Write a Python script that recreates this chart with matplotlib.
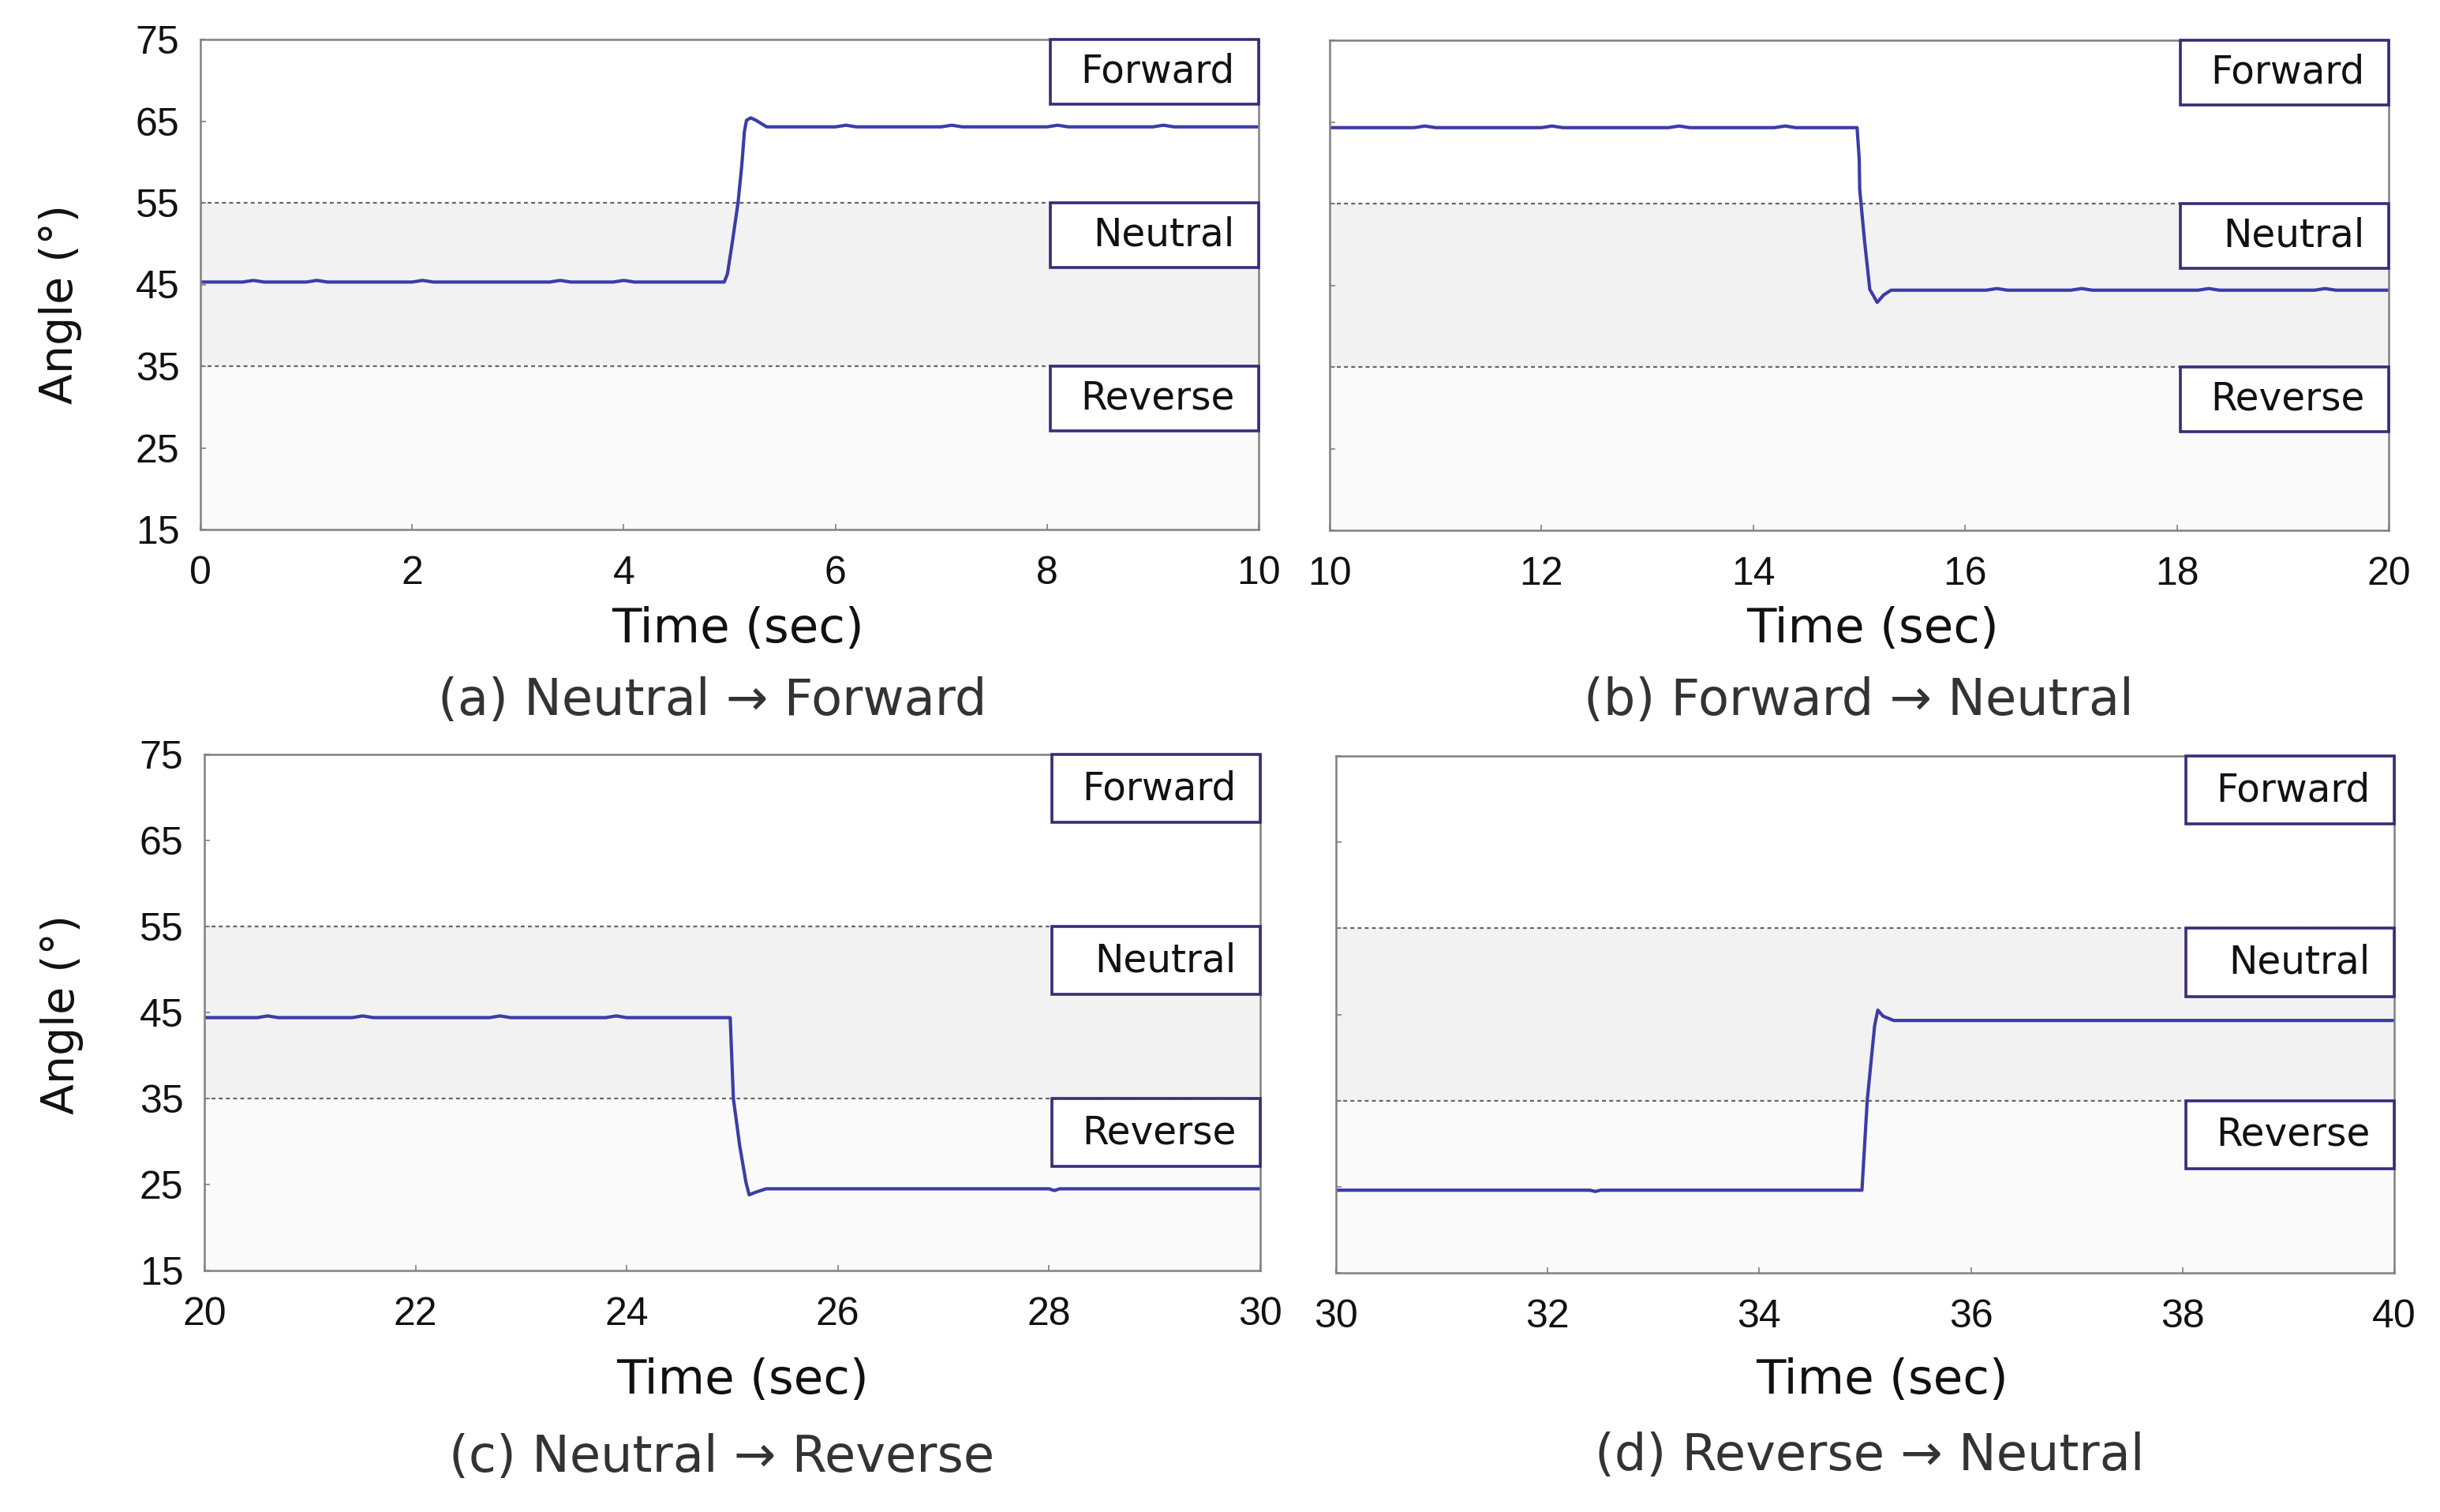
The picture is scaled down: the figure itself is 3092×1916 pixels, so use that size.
import matplotlib
matplotlib.use("Agg")
import matplotlib.pyplot as plt
from matplotlib.patches import Rectangle

# ---------------- data ----------------
t_a = [0, 0.4, 0.5, 0.6, 1.0, 1.1, 1.2, 2.0, 2.1, 2.2, 3.3, 3.4, 3.5, 3.9, 4.0, 4.1,
       4.95, 4.98, 5.03, 5.08, 5.115, 5.14, 5.16, 5.2, 5.25, 5.35, 6.0, 6.1, 6.2, 7.0, 7.1, 7.2,
       8.0, 8.1, 8.2, 9.0, 9.1, 9.2, 10]
v_a = [45.3, 45.3, 45.5, 45.3, 45.3, 45.5, 45.3, 45.3, 45.5, 45.3, 45.3, 45.5, 45.3, 45.3, 45.5, 45.3,
       45.3, 46.3, 50.5, 55.0, 59.5, 63.7, 65.1, 65.4, 65.1, 64.3, 64.3, 64.5, 64.3, 64.3, 64.5, 64.3,
       64.3, 64.5, 64.3, 64.3, 64.5, 64.3, 64.3]

t_b = [10, 10.8, 10.9, 11.0, 12.0, 12.1, 12.2, 13.2, 13.3, 13.4, 14.2, 14.3, 14.4,
       14.98, 15.0, 15.005, 15.05, 15.10, 15.17, 15.23, 15.30, 16.2, 16.3, 16.4, 17.0, 17.1, 17.2,
       18.2, 18.3, 18.4, 19.3, 19.4, 19.5, 20]
v_b = [64.3, 64.3, 64.5, 64.3, 64.3, 64.5, 64.3, 64.3, 64.5, 64.3, 64.3, 64.5, 64.3,
       64.3, 60.5, 56.7, 50.5, 44.5, 42.9, 43.8, 44.4, 44.4, 44.6, 44.4, 44.4, 44.6, 44.4,
       44.4, 44.6, 44.4, 44.4, 44.6, 44.4, 44.4]

t_c = [20, 20.5, 20.6, 20.7, 21.4, 21.5, 21.6, 22.7, 22.8, 22.9, 23.8, 23.9, 24.0,
       24.98, 25.01, 25.07, 25.13, 25.16, 25.22, 25.32, 28.0, 28.05, 28.1, 30]
v_c = [44.4, 44.4, 44.6, 44.4, 44.4, 44.6, 44.4, 44.4, 44.6, 44.4, 44.4, 44.6, 44.4,
       44.4, 35.0, 29.5, 25.2, 23.8, 24.1, 24.5, 24.5, 24.3, 24.5, 24.5]

t_d = [30, 32.4, 32.45, 32.5, 34.97, 35.02, 35.06, 35.09, 35.12, 35.17, 35.27, 40]
v_d = [24.6, 24.6, 24.45, 24.6, 24.6, 35.0, 40.0, 43.7, 45.5, 44.8, 44.3, 44.3]

series_t = [t_a, t_b, t_c, t_d]
series_v = [v_a, v_b, v_c, v_d]
x_ranges = [(0, 10), (10, 20), (20, 30), (30, 40)]
captions = ["(a) Neutral \u2192 Forward", "(b) Forward \u2192 Neutral",
            "(c) Neutral \u2192 Reverse", "(d) Reverse \u2192 Neutral"]
y_ticks = [15, 25, 35, 45, 55, 65, 75]
band_edges = [15, 35, 55, 75]
band_labels = ["Reverse", "Neutral", "Forward"]

# ---------------- style ----------------
plt.rcParams['font.family'] = ['DejaVu Sans']
W, H = 3092, 1916
fig = plt.figure(figsize=(W / 100, H / 100), dpi=100)

axes_px = [  # left, right, top, bottom in pixels
    (254, 1595, 50, 671),
    (1685, 3027, 51, 672),
    (259, 1597, 956, 1610),
    (1693, 3034, 958, 1613),
]
time_lbl_px = [(935, 798), (2373, 798), (941, 1750), (2385, 1750)]
caption_px = [(903, 888), (2355, 888), (915, 1847), (2369, 1845)]
angle_lbl_px = [(76, 385), (79, 1285)]

line_col = '#3c3ca8'
box_col = '#3b2a78'
spine_col = '#808080'
tick_font = ['Liberation Sans', 'DejaVu Sans']

for i in range(4):
    l, r, t, b = axes_px[i]
    ax = fig.add_axes([l / W, 1 - b / H, (r - l) / W, (b - t) / H])
    x0, x1 = x_ranges[i]
    ax.set_xlim(x0, x1)
    ax.set_ylim(15, 75)
    ax.set_facecolor('white')
    ax.axhspan(band_edges[0], band_edges[1], color='#fafafa', zorder=0, lw=0)
    ax.axhspan(band_edges[1], band_edges[2], color='#f2f2f2', zorder=0, lw=0)
    for yv in (band_edges[1], band_edges[2]):
        ax.axhline(yv, color='#666666', lw=1.6, ls=(0, (2.2, 1.9)), zorder=1)
    ax.plot(series_t[i], series_v[i], color=line_col, lw=3.0, zorder=3)

    # state boxes
    for k, lab in enumerate(band_labels):
        top = band_edges[k + 1]
        rect = Rectangle((x1 - 1.97, top - 7.9), 1.97, 7.9, facecolor='white',
                         edgecolor=box_col, lw=2.6, zorder=5, clip_on=False)
        ax.add_patch(rect)
        ax.text(x1 - 0.23, top - 3.95, lab, ha='right', va='center', fontsize=35,
                color='#111111', zorder=6)

    ax.set_xticks(range(x0, x1 + 1, 2))
    ax.set_yticks(y_ticks)
    ax.tick_params(direction='in', length=5, width=1.2, color=spine_col,
                   labelsize=36, labelcolor='#111111')
    ax.tick_params(axis='x', pad=24)
    ax.tick_params(axis='y', pad=19)
    for lab in ax.get_xticklabels() + ax.get_yticklabels():
        lab.set_family(tick_font)
    if i % 2 == 1:
        ax.tick_params(labelleft=False)
    for s in ax.spines.values():
        s.set_color(spine_col)
        s.set_linewidth(1.8)
        s.set_zorder(4)

    tx, ty = time_lbl_px[i]
    fig.text(tx / W, 1 - ty / H, "Time (sec)", ha='center', va='center',
             fontsize=44, color='#111111')
    cx, cy = caption_px[i]
    fig.text(cx / W, 1 - cy / H, captions[i], ha='center', va='center',
             fontsize=46, color='#333333')

for ax_x, ax_y in angle_lbl_px:
    fig.text(ax_x / W, 1 - ax_y / H, "Angle (\u00b0)", ha='center', va='center',
             rotation=90, fontsize=41, color='#111111')

fig.savefig("out.png", dpi=100, facecolor='white')
